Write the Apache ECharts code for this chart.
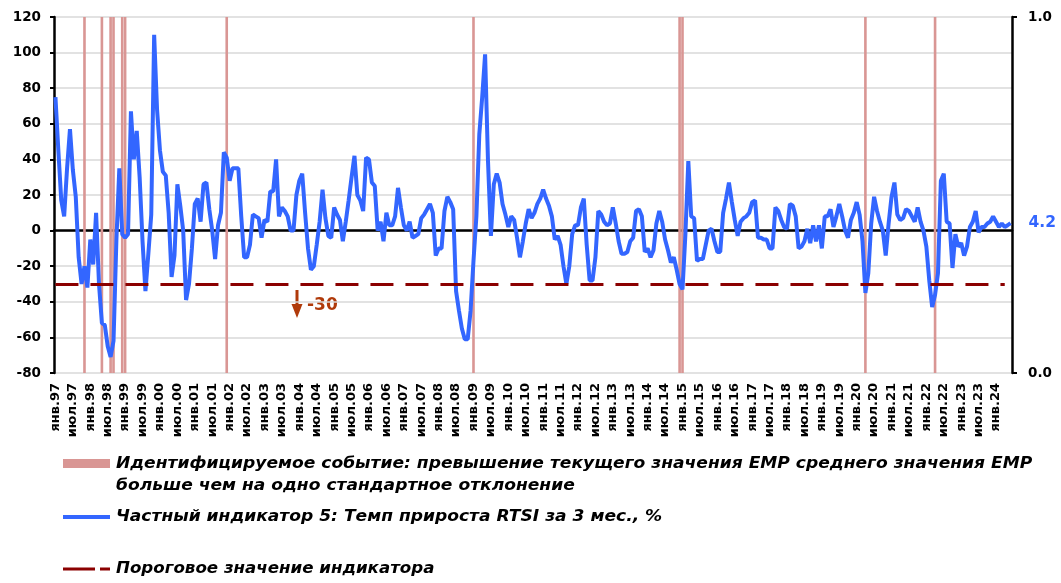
<!DOCTYPE html>
<html>
<head>
<meta charset="utf-8">
<script src="https://cdn.jsdelivr.net/npm/echarts@6.0.0/dist/echarts.min.js"></script>
<style>
  html, body { margin: 0; padding: 0; background: #fff; }
  #chart { width: 1061px; height: 583px; }
</style>
</head>
<body>
<div id="chart"></div>
<script>
// monthly series, starting янв.97
const startYear = 1997
const monthNames = ['янв', 'фев', 'мар', 'апр', 'май', 'июн', 'июл', 'авг', 'сен', 'окт', 'ноя', 'дек']

// Частный индикатор 5: темп прироста RTSI за 3 мес., % (one row per year)
const rtsi3m = [
  75, 45, 17, 8, 35, 57, 34, 19, -15, -30, -20, -32,
  -5, -19, 10, -30, -52, -53, -65, -71, -62, -5, 35, -2,
  -4, -2, 67, 40, 56, 30, -6, -34, -13, 9, 110, 68,
  45, 33, 31, 10, -26, -14, 26, 14, 0, -39, -30, -10,
  15, 18, 5, 26, 27, 12, 0, -16, 3, 10, 44, 41,
  28, 35, 35, 35, 8, -15, -15, -8, 9, 8, 7, -4,
  6, 5, 22, 22, 40, 8, 13, 11, 8, 0, 0, 20,
  28, 32, 10, -10, -22, -20, -8, 5, 23, 7, -3, -4,
  13, 9, 6, -6, 5, 17, 30, 42, 20, 17, 11, 41,
  40, 27, 25, 0, 5, -6, 10, 3, 3, 8, 24, 13,
  3, 0, 5, -4, -3, -2, 7, 9, 12, 15, 10, -14,
  -10, -10, 11, 19, 16, 12, -34, -45, -55, -61, -61, -45,
  -17, 8, 54, 75, 99, 39, -3, 26, 32, 27, 15, 9,
  2, 8, 6, -4, -15, -6, 4, 12, 7, 10, 15, 18,
  23, 18, 14, 8, -5, -3, -8, -20, -30, -20, -2, 3,
  3, 13, 18, -8, -28, -28, -15, 11, 9, 5, 3, 4,
  13, 4, -6, -13, -13, -12, -6, -4, 11, 12, 8, -12,
  -10, -15, -11, 4, 11, 5, -5, -11, -18, -15, -22, -30,
  -33, -2, 39, 8, 7, -17, -16, -16, -8, 0, 1, -6,
  -12, -12, 10, 18, 27, 16, 6, -3, 5, 7, 8, 10,
  16, 17, -4, -4, -5, -5, -10, -10, 13, 11, 6, 2,
  1, 15, 14, 8, -10, -9, -6, 1, -7, 3, -6, 3,
  -10, 8, 8, 12, 2, 8, 15, 8, 0, -4, 6, 10,
  16, 9, -6, -35, -24, 4, 19, 11, 5, 0, -14, 4,
  19, 27, 9, 6, 7, 12, 11, 8, 5, 13, 5, 0,
  -9, -28, -43, -36, -24, 28, 32, 5, 4, -21, -2, -9,
  -7, -14, -9, 2, 5, 11, -1, 2, 2, 4, 5, 8,
  5, 2, 4, 2, 3, 4.2
]

// months with the identified event (EMP above mean + 1 sd)
const eventMonths = ['ноя.97', 'май.98', 'авг.98', 'сен.98', 'дек.98', 'янв.99',
  'дек.01', 'янв.09', 'дек.14', 'янв.15', 'апр.20', 'апр.22']

const threshold = -30

const legendNames = {
  event: 'Идентифицируемое событие: превышение текущего значения EMP среднего значения EMP\nбольше чем на одно стандартное отклонение',
  rtsi: 'Частный индикатор 5: Темп прироста RTSI за 3 мес., %',
  threshold: 'Пороговое значение индикатора'
}

const categories = rtsi3m.map((v, i) =>
  monthNames[i % 12] + '.' + String((startYear + Math.floor(i / 12)) % 100).padStart(2, '0'))
const eventFlags = categories.map(c => eventMonths.includes(c) ? 1 : '-')

const FONT = '"DejaVu Sans", sans-serif'
const LEGEND_FONT = 'italic bold 15px "DejaVu Sans"'
const BLUE = '#3366FF'
const DARK_RED = '#8B0000'
const PINK = '#D99694'
const NOTE = '#B03A0A'

const axisText = {
  fontFamily: FONT,
  fontWeight: 'bold',
  color: '#000'
}

const option = {
  animation: false,
  backgroundColor: '#fff',
  grid: { left: 54, right: 49, top: 17, bottom: 210 },
  xAxis: [
    {
      type: 'category',
      data: categories,
      axisLine: { show: false, onZero: false },
      axisTick: { show: false },
      axisLabel: { ...axisText, interval: 5, rotate: 90, margin: 10, fontSize: 13 },
      splitLine: { show: false }
    },
    {
      // black zero line with half-year ticks
      type: 'category',
      data: categories,
      position: 'bottom',
      axisLine: { onZero: true, onZeroAxisIndex: 0, lineStyle: { color: '#000', width: 2.5 } },
      axisTick: { interval: 5, alignWithLabel: true, length: 4, lineStyle: { color: '#000', width: 2 } },
      axisLabel: { show: false },
      splitLine: { show: false }
    }
  ],
  yAxis: [
    {
      type: 'value',
      min: -80,
      max: 120,
      interval: 20,
      position: 'left',
      axisLine: { show: true, onZero: false, lineStyle: { color: '#000', width: 2.5 } },
      axisTick: { show: true, length: 4, lineStyle: { color: '#000', width: 2 } },
      axisLabel: { ...axisText, margin: 13, fontSize: 13.5 },
      splitLine: { lineStyle: { color: '#D9D9D9', width: 1.5 } }
    },
    {
      type: 'value',
      min: 0,
      max: 1,
      interval: 1,
      position: 'right',
      axisLine: { show: true, onZero: false, lineStyle: { color: '#000', width: 2.5 } },
      axisTick: { show: true, length: 5, lineStyle: { color: '#000', width: 2 } },
      axisLabel: { ...axisText, margin: 16, fontSize: 13.5, formatter: v => v.toFixed(1) },
      splitLine: { show: false }
    }
  ],
  series: [
    {
      name: legendNames.event,
      type: 'bar',
      yAxisIndex: 1,
      data: eventFlags,
      barCategoryGap: '10%',
      itemStyle: { color: PINK },
      silent: true,
      z: 1
    },
    {
      name: legendNames.rtsi,
      type: 'line',
      data: rtsi3m,
      symbol: 'none',
      lineStyle: { color: BLUE, width: 4 },
      itemStyle: { color: BLUE },
      endLabel: {
        show: true,
        formatter: p => p.value,
        color: BLUE,
        fontFamily: FONT,
        fontWeight: 'bold',
        fontSize: 15.5,
        distance: 18
      },
      z: 3
    },
    {
      name: legendNames.threshold,
      type: 'line',
      data: [],
      z: 4,
      markLine: {
        symbol: 'none',
        silent: true,
        label: { show: false },
        lineStyle: { color: DARK_RED, width: 3, type: [23, 12] },
        data: [[
          { coord: [categories[0], threshold] },
          { coord: [categories[categories.length - 3], threshold] }
        ]]
      }
    }
  ],
  graphic: [
    // legend (text stretched a little, as in the source picture)
    { type: 'rect', shape: { x: 63, y: 459, width: 47, height: 9 }, style: { fill: PINK } },
    {
      type: 'text', x: 116, y: 453, scaleX: 1.14,
      style: { text: legendNames.event, font: LEGEND_FONT, lineHeight: 22, fill: '#000' }
    },
    { type: 'line', shape: { x1: 63, y1: 517, x2: 110, y2: 517 }, style: { stroke: BLUE, lineWidth: 4 } },
    {
      type: 'text', x: 116, y: 517, scaleX: 1.14,
      style: { text: legendNames.rtsi, font: LEGEND_FONT, verticalAlign: 'middle', fill: '#000' }
    },
    {
      type: 'line', shape: { x1: 63, y1: 569, x2: 110, y2: 569 },
      style: { stroke: DARK_RED, lineWidth: 3, lineDash: [32, 5, 10, 5] }
    },
    {
      type: 'text', x: 116, y: 569, scaleX: 1.11,
      style: { text: legendNames.threshold, font: LEGEND_FONT, verticalAlign: 'middle', fill: '#000' }
    },
    // threshold annotation
    { type: 'line', shape: { x1: 297, y1: 290, x2: 297, y2: 308 }, style: { stroke: NOTE, lineWidth: 3 } },
    { type: 'polygon', shape: { points: [[291.5, 304], [302.5, 304], [297, 318]] }, style: { fill: NOTE } },
    {
      type: 'text', x: 307, y: 306,
      style: { text: String(threshold), font: 'bold 17px "DejaVu Sans"', verticalAlign: 'middle', fill: NOTE }
    }
  ]
}

const chart = echarts.init(document.getElementById('chart'))
chart.setOption(option)
</script>
</body>
</html>
